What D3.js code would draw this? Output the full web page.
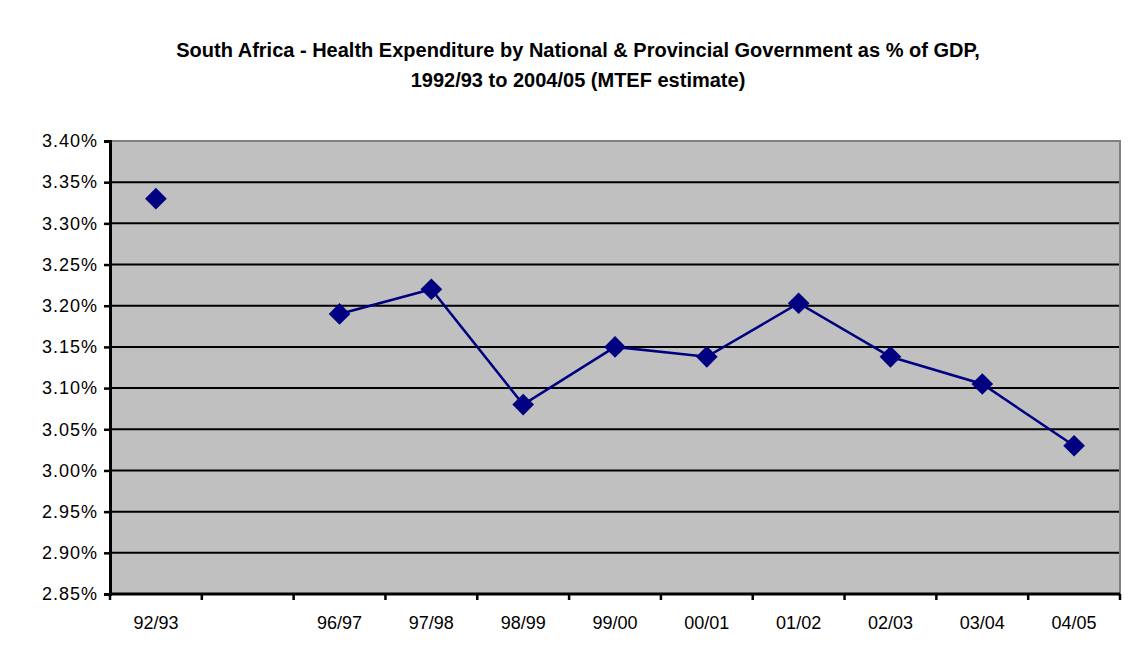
<!DOCTYPE html>
<html>
<head>
<meta charset="utf-8">
<script src="https://cdn.jsdelivr.net/npm/d3@7"></script>
<style>
  html, body { margin: 0; padding: 0; background: #fff; }
  svg { display: block; font-family: "Liberation Sans", Arial, sans-serif; }
</style>
</head>
<body>
<svg id="chart" width="1142" height="664"></svg>
<script>
// Fiscal years; the empty slot stands for the years with no figure
const categories = ["92/93", "", "96/97", "97/98", "98/99", "99/00", "00/01", "01/02", "02/03", "03/04", "04/05"];
// Health expenditure as % of GDP (null = no figure)
const values = [3.33, null, 3.19, 3.22, 3.08, 3.15, 3.138, 3.203, 3.138, 3.105, 3.03];
const yTicks = [2.85, 2.90, 2.95, 3.00, 3.05, 3.10, 3.15, 3.20, 3.25, 3.30, 3.35, 3.40];
const titleLines = [
  "South Africa - Health Expenditure by National & Provincial Government as % of GDP,",
  "1992/93 to 2004/05 (MTEF estimate)"
];

const svg = d3.select("#chart");
const plotL = 110, plotR = 1120, plotT = 141, plotB = 594;

const x = d3.scaleBand().domain(d3.range(categories.length)).range([plotL, plotR]);
const y = d3.scaleLinear().domain([2.85, 3.40]).range([plotB, plotT]);

// Title
svg.append("g").selectAll("text").data(titleLines).join("text")
  .attr("x", 578).attr("y", (d, i) => 57 + i * 30)
  .attr("text-anchor", "middle")
  .style("font-weight", "bold").style("font-size", "20px")
  .text(d => d);

// Plot area
svg.append("rect").attr("x", plotL).attr("y", plotT)
  .attr("width", plotR - plotL).attr("height", plotB - plotT)
  .attr("fill", "#c0c0c0");

// Horizontal gridlines
svg.append("g").selectAll("line").data(yTicks.slice(1, -1)).join("line")
  .attr("x1", plotL).attr("x2", plotR)
  .attr("y1", d => y(d)).attr("y2", d => y(d))
  .attr("stroke", "#000").attr("stroke-width", 2);

// Gray frame on top and right
svg.append("path")
  .attr("d", `M${plotL},${plotT}H${plotR}V${plotB}`)
  .attr("fill", "none").attr("stroke", "#808080").attr("stroke-width", 2);

// Y axis
const yAxis = d3.axisLeft(y).tickValues(yTicks).tickSize(6).tickPadding(6)
  .tickFormat(d => d.toFixed(2) + "%");
const gy = svg.append("g").attr("transform", `translate(${plotL},0)`).call(yAxis);
gy.select(".domain").attr("stroke", "#000").attr("stroke-width", 3);
gy.selectAll(".tick line").attr("stroke", "#000").attr("stroke-width", 2.5);
gy.selectAll(".tick text").style("font-size", "18px").style("letter-spacing", "1px")
  .attr("fill", "#000");

// X axis: labels centered in slots, ticks between slots
const gx = svg.append("g").attr("transform", `translate(0,${plotB})`);
gx.append("line").attr("x1", plotL).attr("x2", plotR).attr("stroke", "#000").attr("stroke-width", 3);
const edges = d3.range(categories.length + 1).map(i => plotL + i * x.step());
gx.selectAll("line.tk").data(edges).join("line").attr("class", "tk")
  .attr("x1", d => d).attr("x2", d => d).attr("y1", 0).attr("y2", 6)
  .attr("stroke", "#000").attr("stroke-width", 2.5);
gx.selectAll("text").data(categories).join("text")
  .attr("x", (d, i) => x(i) + x.bandwidth() / 2).attr("y", 35)
  .attr("text-anchor", "middle").style("font-size", "18px")
  .text(d => d);

// Series line (breaks at missing values)
const pts = values.map((v, i) => ({ i, v }));
const line = d3.line()
  .defined(d => d.v !== null)
  .x(d => x(d.i) + x.bandwidth() / 2)
  .y(d => y(d.v));
svg.append("path").datum(pts).attr("d", line)
  .attr("fill", "none").attr("stroke", "#000080").attr("stroke-width", 2.5);

// Diamond markers
const diamond = d3.symbol().type(d3.symbolDiamond2).size(300);
svg.append("g").selectAll("path").data(pts.filter(d => d.v !== null)).join("path")
  .attr("transform", d => `translate(${x(d.i) + x.bandwidth() / 2},${y(d.v)})`)
  .attr("d", diamond)
  .attr("fill", "#000080");
</script>
</body>
</html>
